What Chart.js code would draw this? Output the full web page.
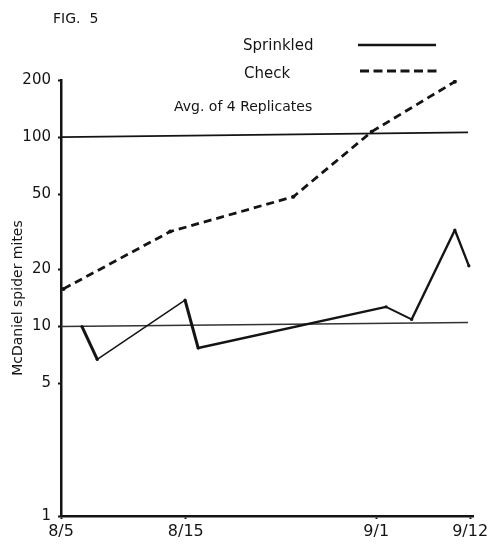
<!DOCTYPE html>
<html>
<head>
<meta charset="utf-8">
<script src="https://cdn.jsdelivr.net/npm/chart.js@4/dist/chart.umd.min.js"></script>
<style>
  html, body { margin: 0; padding: 0; background: #fff; }
  #wrap { width: 499px; height: 545px; position: relative; }
</style>
</head>
<body>
<div id="wrap"><canvas id="fig5"></canvas></div>
<script>
// x positions (8/5 = 0, axis end = 100)
const xTickPos = [0, 30.3, 76.5, 99.3];
const xTickLabels = ['8/5', '8/15', '9/1', '9/12'];
const yTicks = [1, 5, 10, 20, 50, 100, 200];

const sprinkledX = [5.1, 8.8, 30.1, 33.3, 78.9, 85.1, 95.6, 99.0];
const sprinkledY = [10.0, 6.7, 13.8, 7.7, 12.7, 10.9, 32.3, 20.9];

const checkX = [0.6, 26.5, 56.4, 75.4, 95.6];
const checkY = [15.8, 31.7, 48.4, 106.7, 196];

// the two hand-ruled reference lines
const refX = [0, 98.8];
const ref100 = [100, 105.9];
const ref10 = [10, 10.5];

const ink = '#141414';
const FONT = '"DejaVu Sans", sans-serif';

// pen weight per segment of the solid line
const sprinkledWidths = [3, 1.5, 3, 2.4, 1.9, 2.4, 2.3];

const pts = (xs, ys) => xs.map((x, i) => ({ x: x, y: ys[i] }));

const textPlugin = {
    id: 'figText',
    afterDraw(chart) {
        const c = chart.ctx;
        c.save();
        c.fillStyle = ink;
        c.textBaseline = 'alphabetic';
        c.textAlign = 'left';
        c.font = '14px ' + FONT;
        c.fillText('FIG.  5', 53, 23);
        c.font = '15px ' + FONT;
        c.fillText('Sprinkled', 243, 50);
        c.fillText('Check', 244, 78);
        c.font = '14px ' + FONT;
        c.fillText('Avg. of 4 Replicates', 174, 111);

        c.strokeStyle = ink;
        c.lineWidth = 2.5;
        c.beginPath(); c.moveTo(358, 45); c.lineTo(436, 45); c.stroke();
        c.setLineDash([9, 4.5]);
        c.lineWidth = 2.8;
        c.beginPath(); c.moveTo(360, 71); c.lineTo(437, 71); c.stroke();
        c.restore();
    }
};

new Chart(document.getElementById('fig5'), {
    type: 'line',
    data: {
        datasets: [
            {
                label: 'Sprinkled',
                data: pts(sprinkledX, sprinkledY),
                borderColor: ink,
                borderWidth: 2.3,
                segment: { borderWidth: ctx => sprinkledWidths[ctx.p0DataIndex] },
                pointRadius: 1.6,
                pointBackgroundColor: ink,
                pointBorderWidth: 0,
                tension: 0
            },
            {
                label: 'Check',
                data: pts(checkX, checkY),
                borderColor: ink,
                borderWidth: 2.8,
                borderDash: [8, 5],
                pointRadius: 2,
                pointBackgroundColor: ink,
                pointBorderWidth: 0,
                tension: 0
            },
            {
                label: 'ref100',
                data: pts(refX, ref100),
                borderColor: ink,
                borderWidth: 1.7,
                pointRadius: 0
            },
            {
                label: 'ref10',
                data: pts(refX, ref10),
                borderColor: '#333',
                borderWidth: 1.3,
                pointRadius: 0
            }
        ]
    },
    options: {
        responsive: true,
        maintainAspectRatio: false,
        animation: false,
        layout: { padding: { top: 80, right: 26, bottom: 0, left: 0 } },
        plugins: {
            legend: { display: false },
            tooltip: { enabled: false }
        },
        scales: {
            x: {
                type: 'linear',
                min: 0,
                max: 100,
                afterBuildTicks: s => { s.ticks = xTickPos.map(v => ({ value: v })); },
                afterFit: s => { s.height = 29; },
                grid: { drawOnChartArea: false, drawTicks: true, tickLength: 3, tickWidth: 2, color: ink },
                border: { display: true, color: ink, width: 2.5 },
                ticks: {
                    autoSkip: false,
                    maxRotation: 0,
                    padding: 3,
                    color: ink,
                    font: { family: FONT, size: 16 },
                    callback: (v, i) => xTickLabels[i]
                }
            },
            y: {
                type: 'logarithmic',
                min: 1,
                max: 200,
                afterBuildTicks: s => { s.ticks = yTicks.map(v => ({ value: v })); },
                afterFit: s => { s.width = 61; },
                grid: { drawOnChartArea: false, drawTicks: true, tickLength: 3, tickWidth: 2, color: ink },
                border: { display: true, color: ink, width: 2.5 },
                title: {
                    display: true,
                    text: 'McDaniel spider mites',
                    color: ink,
                    font: { family: FONT, size: 14 },
                    padding: { top: 10, bottom: 0 }
                },
                ticks: {
                    autoSkip: false,
                    padding: 7,
                    color: ink,
                    font: { family: FONT, size: 15 },
                    callback: v => String(v)
                }
            }
        }
    },
    plugins: [textPlugin]
});
</script>
</body>
</html>
